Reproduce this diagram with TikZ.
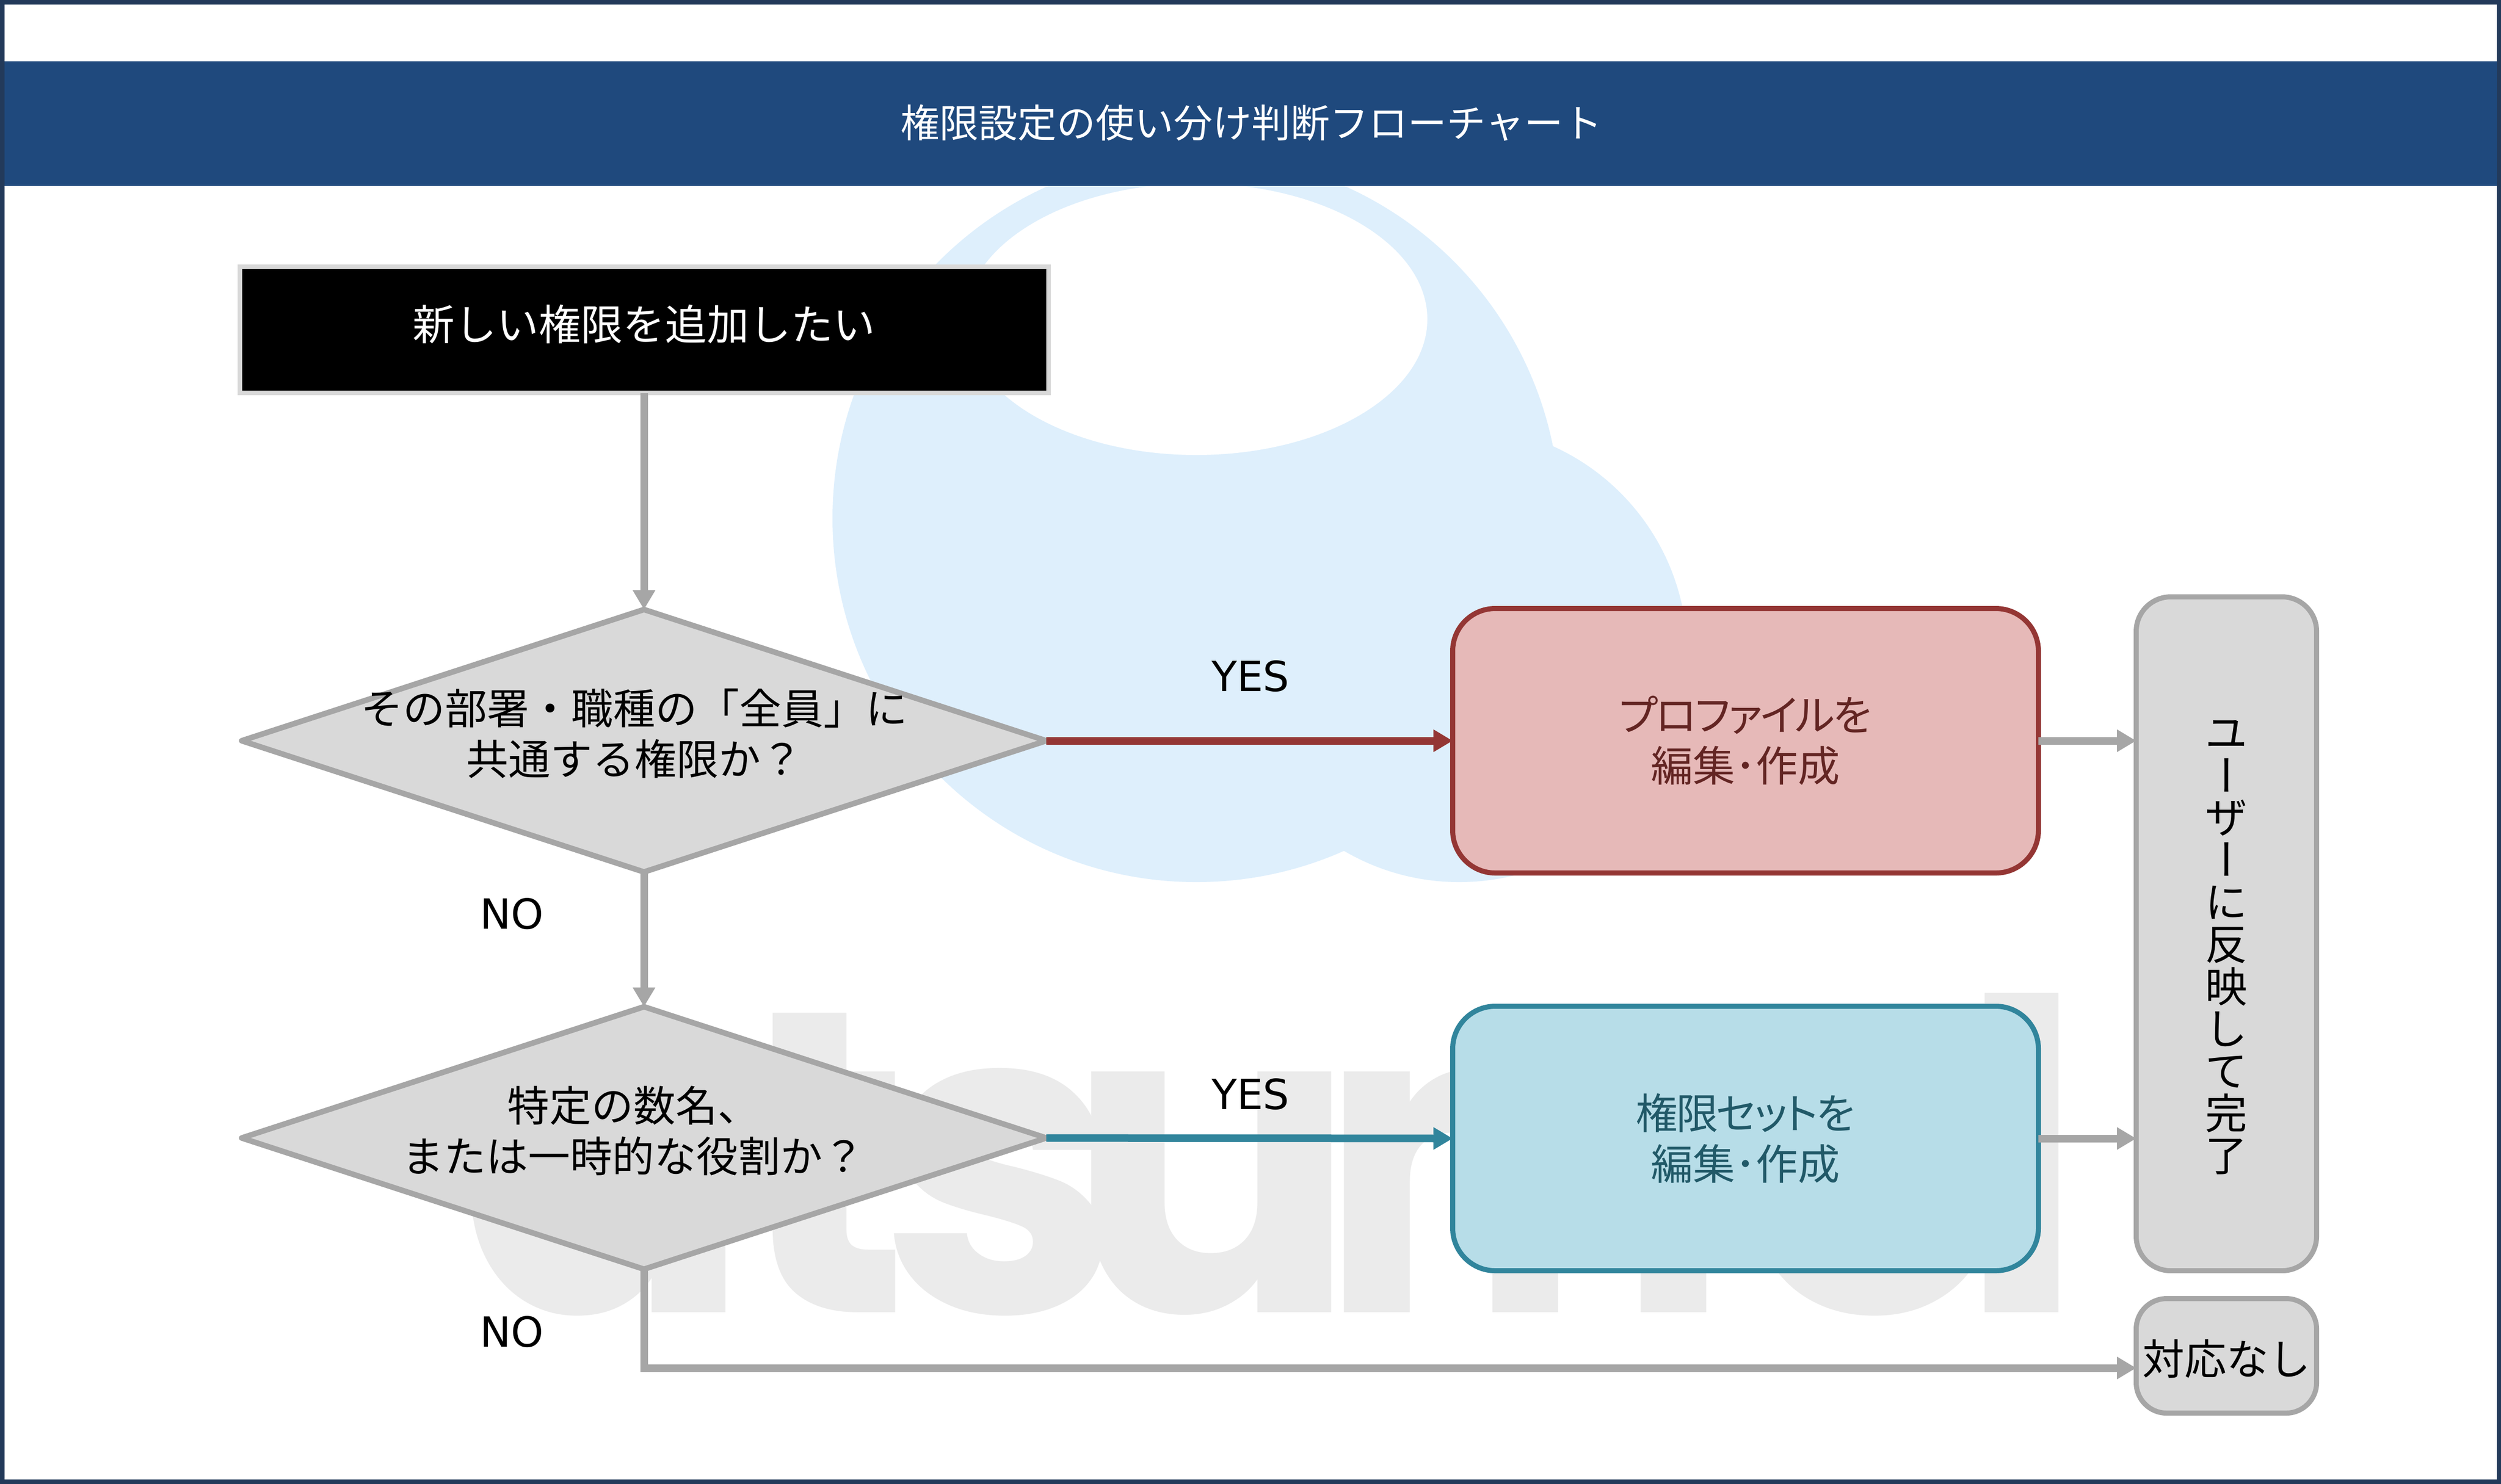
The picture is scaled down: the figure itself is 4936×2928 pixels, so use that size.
\documentclass[tikz,border=0pt]{standalone}
\usepackage{fontspec}
\usetikzlibrary{shapes.geometric,arrows.meta}
\setmainfont{Noto Sans CJK JP}
\newfontfamily\paltf[RawFeature={+palt},LetterSpace=-4.5]{Noto Sans CJK JP}
\newfontfamily\latinf{DejaVu Sans}
\newfontfamily\wmfont[BoldFont=* Bold]{Poppins}
\definecolor{framec}{HTML}{233A5A}
\definecolor{headc}{HTML}{1F497D}
\definecolor{cloudc}{HTML}{DEEFFC}
\definecolor{wmc}{HTML}{EBEBEB}
\definecolor{gline}{HTML}{A6A6A6}
\definecolor{gfill}{HTML}{D9D9D9}
\definecolor{redl}{HTML}{943634}
\definecolor{redf}{HTML}{E6B9B8}
\definecolor{redt}{HTML}{632523}
\definecolor{bluel}{HTML}{31859C}
\definecolor{bluef}{HTML}{B7DDE8}
\definecolor{bluet}{HTML}{215968}
\newcommand{\vbarjp}{\rotatebox[origin=c]{-90}{\rule{0pt}{.88em}\rule[-.12em]{0pt}{.12em}ー}}
\tikzset{
  jp/.style={font=\fontsize{20.75}{25}\selectfont,align=center,inner sep=0pt,outer sep=0pt},
  yesno/.style={font=\latinf\fontsize{20.5}{24}\selectfont,inner sep=0pt},
  wm/.style={font=\wmfont\bfseries\fontsize{213}{213}\selectfont,text=wmc,inner sep=0pt,anchor=base west},
  startbox/.style={draw=gfill,fill=black,line width=2.25pt,minimum width=399pt,minimum height=62.25pt,outer sep=0pt,inner sep=0pt},
  decision/.style={diamond,draw=gline,fill=gfill,line width=2.75pt,line join=round,minimum width=397pt,minimum height=129.5pt,inner sep=0pt,outer sep=0pt},
  redbox/.style={draw=redl,fill=redf,line width=2.5pt,rounded corners=21pt,minimum width=289pt,minimum height=130.5pt,outer sep=0pt,inner sep=0pt},
  bluebox/.style={draw=bluel,fill=bluef,line width=2.5pt,rounded corners=21pt,minimum width=289pt,minimum height=130.5pt,outer sep=0pt,inner sep=0pt},
  greybox/.style={draw=gline,fill=gfill,line width=2.5pt,minimum width=89pt,outer sep=0pt,inner sep=0pt},
  conn/.style={line width=3.75pt,-{Triangle[length=9.5pt,width=10.5pt]}},
}
\begin{document}
\begin{tikzpicture}[x=0.25pt,y=-0.25pt]
\useasboundingbox (0,0) rectangle (4936,2928);
% watermark
\fill[cloudc] (2361,1023) circle [radius=718*0.25pt];
\fill[cloudc] (2880,1291) circle [radius=450*0.25pt];
\fill[white] (2361,630) ellipse [x radius=456*0.25pt,y radius=268*0.25pt];
\node[wm] (wa) at (906,2590) {a};
\node[wm] (wt) at (1449,2590) {t};
\node[wm] (ws) at (1737,2590) {s};
\node[wm] (wu) at (2105,2590) {u};
\node[wm] (wm1) at (2605,2590) {\scalebox{.894}[1]{m}};
\node[wm] (we) at (3435,2590) {e};
\node[wm] (wl) at (3864,2590) {l};
% header
\node[fill=headc,minimum width=1234pt,minimum height=61.5pt,inner sep=0pt,outer sep=0pt] (head) at (2468,244) {};
\node[jp,text=white,font=\fontsize{19.25}{24}\selectfont] (title) at (2470,242) {権限設定の使い分け判断フローチャート};
% frame
\draw[framec,line width=2.25pt] (4,4) rectangle (4932,2924);
% nodes
\node[startbox] (start) at (1271,651) {};
\node[jp,text=white] (startt) at (1271,640) {新しい権限を追加したい};
\node[decision] (d1) at (1271,1462) {};
\node[jp] (d1t) at (1252,1448) {その部署・職種の「全員」に\\共通する権限か？};
\node[decision] (d2) at (1271,2246) {};
\node[jp] (d2t) at (1250,2232) {特定の数名、\\または一時的な役割か？};
\node[redbox] (red) at (3445,1462) {};
\node[jp,text=redt] (redt1) at (3445,1462) {{\paltf プロファイルを}\\編集･作成};
\node[bluebox] (blue) at (3445,2247) {};
\node[jp,text=bluet] (bluet1) at (3445,2247) {{\paltf 権限セットを}\\編集･作成};
\node[greybox,rounded corners=17pt,minimum height=332.5pt] (tall) at (4394,1843) {};
\node[jp,font=\fontsize{20.75}{20.85}\selectfont,execute at begin node={\lineskiplimit=-20pt}] (tallt) at (4394,1870) {ユ\\\vbarjp\\ザ\\\vbarjp\\に\\反\\映\\し\\て\\完\\了};
\node[greybox,rounded corners=15pt,minimum height=56.5pt] (small) at (4394,2676) {};
\node[jp] (smallt) at (4394,2682) {対応なし};
% labels
\node[yesno] (y1) at (2468,1335) {YES};
\node[yesno] (y2) at (2468,2160) {YES};
\node[yesno] (n1) at (1010,1804) {NO};
\node[yesno] (n2) at (1010,2629) {NO};
% connectors
\coordinate (nend) at (small.west |- 0,2700);
\draw[conn,gline] (start) -- (d1);
\draw[conn,gline] (d1) -- (d2);
\draw[conn,redl] (d1.east) -- (red.west);
\draw[conn,bluel] (d2.east) -- (blue.west);
\draw[conn,gline] (red.east) -- (tall.west |- red.east);
\draw[conn,gline] (blue.east) -- (tall.west |- blue.east);
\draw[conn,gline] (d2.south) |- (nend);
\end{tikzpicture}
\end{document}
